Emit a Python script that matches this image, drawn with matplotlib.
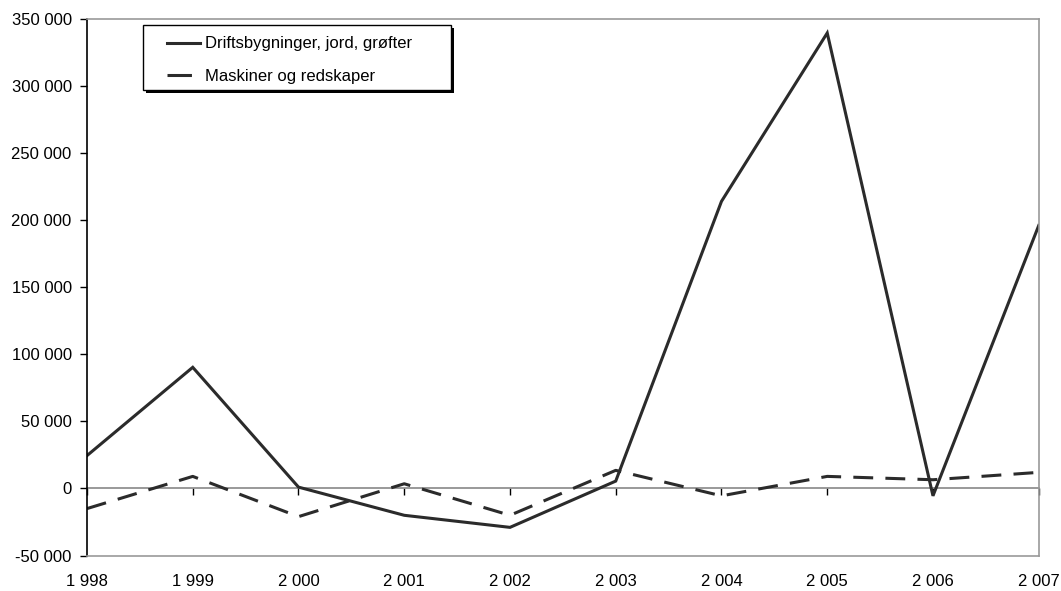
import matplotlib
matplotlib.use('Agg')
import matplotlib.pyplot as plt
from matplotlib.lines import Line2D
from matplotlib.patches import Rectangle
import matplotlib.transforms as mtransforms
import numpy as np

plt.rcParams['font.family'] = ['Liberation Sans', 'DejaVu Sans']

years = [1998, 1999, 2000, 2001, 2002, 2003, 2004, 2005, 2006, 2007]
year_labels = ['1 998', '1 999', '2 000', '2 001', '2 002', '2 003', '2 004', '2 005', '2 006', '2 007']
drift = [24500, 90300, 1000, -20000, -29000, 5500, 214000, 339500, -5500, 196000]
maskiner = [-15000, 9000, -21000, 3500, -20000, 13500, -5500, 9000, 6500, 12000]
yticks = [-50000, 0, 50000, 100000, 150000, 200000, 250000, 300000, 350000]
name_drift = 'Driftsbygninger, jord, grøfter'
name_mask = 'Maskiner og redskaper'

fig = plt.figure(figsize=(10.61, 5.91), dpi=100)
ax = fig.add_axes([0.082, 0.06, 0.897, 0.908])

col = '#2b2b2b'
ax.plot(years, drift, color=col, lw=2.2, solid_joinstyle='miter')
ax.plot(years, maskiner, color=col, lw=2.2, dashes=(6.5, 4))

ax.set_xlim(years[0], years[-1])
ax.set_ylim(yticks[0], yticks[-1])
ax.set_yticks(yticks)
ax.set_yticklabels([f'{v:,}'.replace(',', ' ') for v in yticks])
ax.tick_params(axis='y', direction='out', length=5, width=1, color='black',
               labelsize=12, pad=6)

# year labels at the bottom, tick marks on the zero line
ax.set_xticks(years)
ax.set_xticklabels(year_labels)
ax.tick_params(axis='x', length=0, labelsize=12, pad=13)

zero_pos = (0 - yticks[0]) / (yticks[-1] - yticks[0])
sec = ax.secondary_xaxis(zero_pos)
sec.set_xticks(years)
sec.tick_params(axis='x', direction='out', length=5, width=1, color='black', labelbottom=False)
sec.spines['bottom'].set_color('#888888')
sec.spines['bottom'].set_linewidth(1.2)

for s in ['top', 'right', 'bottom']:
    ax.spines[s].set_color('#999999')
    ax.spines[s].set_linewidth(1.2)
ax.spines['left'].set_color('black')
ax.spines['left'].set_linewidth(1.2)

# legend box with excel style shadow
bx, by, bw, bh = 0.0588, 0.8677, 0.3235, 0.1211
shadow_tr = mtransforms.offset_copy(ax.transAxes, fig=fig, x=3, y=-3, units='dots')
ax.add_patch(Rectangle((bx, by), bw, bh, transform=shadow_tr, facecolor='black',
                       edgecolor='none', zorder=4.9, clip_on=False))
ax.add_patch(Rectangle((bx, by), bw, bh, transform=ax.transAxes, facecolor='white',
                       edgecolor='black', lw=1.0, zorder=5, clip_on=False))

handles = [Line2D([], [], color=col, lw=2.2),
           Line2D([], [], color=col, lw=2.2, dashes=(8, 4))]
leg = ax.legend(handles, [name_drift, name_mask], loc='upper left',
                bbox_to_anchor=(0.084, 0.9675), frameon=False, fontsize=12,
                handlelength=2.0, handletextpad=0.3, labelspacing=1.05,
                borderpad=0, borderaxespad=0)
leg.set_zorder(6)

fig.savefig('out.png', dpi=100)
